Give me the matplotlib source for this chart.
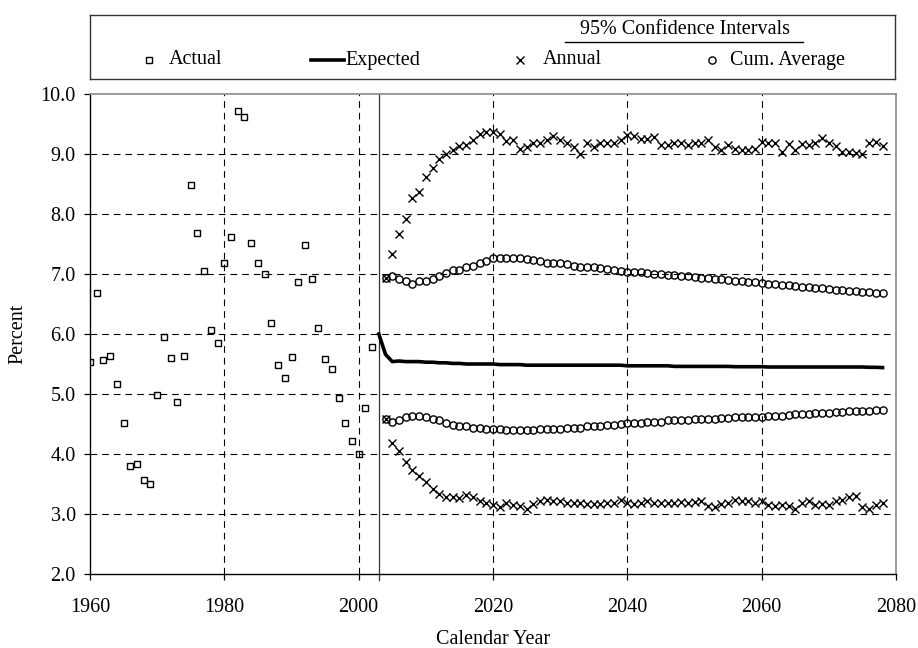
import matplotlib
matplotlib.use("Agg")
import matplotlib.pyplot as plt
import numpy as np

plt.rcParams['font.family'] = ['Liberation Serif', 'DejaVu Serif']
plt.rcParams['font.size'] = 14.5
plt.rcParams['lines.scale_dashes'] = False

# 历史数据 (Actual)
actual_years = np.arange(1960, 2003)
actual = [5.54, 6.69, 5.57, 5.64, 5.16, 4.51, 3.80, 3.84, 3.56, 3.50,
          4.98, 5.95, 5.60, 4.86, 5.64, 8.48, 7.69, 7.05, 6.07, 5.85,
          7.18, 7.62, 9.71, 9.61, 7.51, 7.19, 7.00, 6.18, 5.49, 5.26,
          5.62, 6.86, 7.49, 6.91, 6.10, 5.59, 5.41, 4.94, 4.51, 4.22,
          4.00, 4.77, 5.78]

# 预测 (Expected)
expected_years = np.arange(2003, 2079)
expected = [6.00, 5.66, 5.54, 5.55, 5.54, 5.54, 5.54,
            5.53, 5.53, 5.52, 5.52, 5.51, 5.51, 5.50, 5.50, 5.50, 5.50,
            5.50, 5.49, 5.49, 5.49, 5.49, 5.48, 5.48, 5.48, 5.48, 5.48,
            5.48, 5.48, 5.48, 5.48, 5.48, 5.48, 5.48, 5.48, 5.48, 5.48,
            5.47, 5.47, 5.47, 5.47, 5.47, 5.47, 5.47, 5.46, 5.46, 5.46,
            5.46, 5.46, 5.46, 5.46, 5.46, 5.46, 5.455, 5.455, 5.455, 5.455,
            5.455, 5.45, 5.45, 5.45, 5.45, 5.45, 5.45, 5.45, 5.45, 5.45,
            5.45, 5.45, 5.45, 5.45, 5.45, 5.45, 5.445, 5.445, 5.44]

# 95% 置信区间
ci_years = np.arange(2004, 2079)
annual_hi = [6.94, 7.33, 7.66, 7.92, 8.26, 8.37,
             8.62, 8.76, 8.92, 9.00, 9.07, 9.13, 9.15, 9.23, 9.33, 9.37,
             9.36, 9.34, 9.21, 9.24, 9.09, 9.12, 9.19, 9.18, 9.24, 9.30,
             9.23, 9.18, 9.11, 9.00, 9.18, 9.12, 9.19, 9.19, 9.19, 9.23,
             9.32, 9.30, 9.25, 9.25, 9.28, 9.15, 9.15, 9.18, 9.18, 9.15,
             9.18, 9.19, 9.24, 9.12, 9.06, 9.15, 9.09, 9.07, 9.07, 9.09,
             9.20, 9.19, 9.18, 9.04, 9.17, 9.06, 9.17, 9.15, 9.18, 9.26,
             9.18, 9.13, 9.04, 9.04, 9.01, 9.00, 9.19, 9.20, 9.13]
annual_lo = [4.59, 4.19, 4.05, 3.87, 3.74, 3.63,
             3.54, 3.42, 3.34, 3.28, 3.29, 3.27, 3.32, 3.29, 3.21, 3.18,
             3.15, 3.11, 3.19, 3.15, 3.13, 3.09, 3.17, 3.21, 3.24, 3.22,
             3.22, 3.18, 3.18, 3.18, 3.17, 3.17, 3.17, 3.18, 3.19, 3.24,
             3.18, 3.17, 3.19, 3.21, 3.19, 3.19, 3.18, 3.19, 3.20, 3.19,
             3.20, 3.22, 3.14, 3.12, 3.17, 3.19, 3.23, 3.21, 3.21, 3.19,
             3.21, 3.15, 3.14, 3.15, 3.13, 3.09, 3.18, 3.21, 3.15, 3.17,
             3.15, 3.21, 3.23, 3.29, 3.30, 3.12, 3.09, 3.15, 3.18]
cum_hi = [6.94, 6.97, 6.92, 6.88, 6.83, 6.89,
          6.89, 6.92, 6.97, 7.01, 7.06, 7.07, 7.12, 7.14, 7.19, 7.22,
          7.26, 7.27, 7.27, 7.27, 7.26, 7.25, 7.23, 7.22, 7.19, 7.19,
          7.18, 7.16, 7.14, 7.12, 7.11, 7.11, 7.10, 7.08, 7.07, 7.05,
          7.03, 7.03, 7.03, 7.01, 7.00, 7.00, 6.98, 6.98, 6.97, 6.96,
          6.95, 6.94, 6.93, 6.92, 6.91, 6.90, 6.89, 6.88, 6.87, 6.86,
          6.85, 6.84, 6.83, 6.82, 6.81, 6.80, 6.79, 6.78, 6.77, 6.76,
          6.75, 6.74, 6.73, 6.72, 6.71, 6.70, 6.70, 6.69, 6.68]
cum_lo = [4.59, 4.54, 4.57, 4.62, 4.63, 4.63,
          4.61, 4.59, 4.56, 4.51, 4.48, 4.47, 4.46, 4.44, 4.43, 4.42,
          4.41, 4.41, 4.40, 4.40, 4.40, 4.40, 4.40, 4.41, 4.41, 4.42,
          4.42, 4.43, 4.44, 4.44, 4.46, 4.47, 4.47, 4.48, 4.49, 4.50,
          4.51, 4.52, 4.52, 4.53, 4.54, 4.54, 4.56, 4.56, 4.57, 4.57,
          4.58, 4.58, 4.59, 4.59, 4.60, 4.60, 4.61, 4.61, 4.62, 4.62,
          4.62, 4.63, 4.63, 4.64, 4.65, 4.66, 4.66, 4.67, 4.68, 4.69,
          4.69, 4.70, 4.70, 4.71, 4.71, 4.72, 4.72, 4.73, 4.73]

fig = plt.figure(figsize=(9.18, 6.48), dpi=100)
W, H = 918, 648
ax = fig.add_axes([90 / W, 1 - 574 / H, 806 / W, 480 / H])

grid_kw = dict(color='black', lw=0.8, dashes=(4.8, 3.6), zorder=1)
for yv in np.arange(3, 10):
    ax.axhline(yv, **grid_kw)
for xv in [1980, 2000, 2020, 2040, 2060]:
    ax.axvline(xv, **grid_kw)
ax.axvline(2003, ymin=-0.012, ymax=1, color='#333333', lw=0.9, clip_on=False, zorder=2)

ax.plot(actual_years, actual, 's', ms=4.2, mfc='none', mec='black', mew=1.0, zorder=3)
ax.plot(expected_years, expected, '-', color='black', lw=2.6, zorder=3)
for s in (annual_hi, annual_lo):
    ax.plot(ci_years, s, 'x', ms=5.5, mec='black', mew=1.0, zorder=3)
for s in (cum_hi, cum_lo):
    ax.plot(ci_years, s, 'o', ms=5.2, mfc='none', mec='black', mew=1.0, zorder=3)

ax.set_xlim(1960, 2080)
ax.set_ylim(2, 10)
ax.set_xticks(np.arange(1960, 2081, 20))
ax.set_yticks(np.arange(2, 10.1, 1))
ax.set_yticklabels([f'{v:.1f}' for v in np.arange(2, 10.1, 1)])
ax.tick_params(axis='x', direction='out', length=4.3, width=0.9, pad=13)
ax.tick_params(axis='y', direction='out', length=4.3, width=0.9, pad=6)
for sp in ('left', 'bottom'):
    ax.spines[sp].set_color('black')
    ax.spines[sp].set_linewidth(1.0)
for sp in ('top', 'right'):
    ax.spines[sp].set_color('#8a8a8a')
    ax.spines[sp].set_linewidth(1.2)

ax.text(-0.089, 0.5, 'Percent', transform=ax.transAxes, rotation=90,
        ha='center', va='center')
ax.text(0.5, -0.1458, 'Calendar Year', transform=ax.transAxes,
        ha='center', va='baseline')

# 图例 (像素坐标)
lg = fig.add_axes([90 / W, 1 - 79 / H, 805 / W, 64 / H])
lg.set_xlim(90, 895)
lg.set_ylim(79, 15)
lg.set_xticks([])
lg.set_yticks([])
for sp in lg.spines.values():
    sp.set_color('#333333')
    sp.set_linewidth(1.0)
ly = 60
lg.plot([149], [ly], 's', ms=4.2, mfc='none', mec='black', mew=1.0)
lg.text(169, ly, 'Actual', va='center', ha='left')
lg.plot([311, 344], [ly, ly], '-', color='black', lw=2.6)
lg.text(345, ly, 'Expected', va='center', ha='left')
lg.plot([520], [ly], 'x', ms=5.5, mec='black', mew=1.0)
lg.text(543, ly, 'Annual', va='center', ha='left')
lg.plot([712], [ly], 'o', ms=5.2, mfc='none', mec='black', mew=1.0)
lg.text(730, ly, 'Cum. Average', va='center', ha='left')
lg.text(685, 29, '95% Confidence Intervals', va='center', ha='center')
lg.plot([565, 803], [42, 42], '-', color='black', lw=1.0)

fig.savefig('out.png', dpi=100)
